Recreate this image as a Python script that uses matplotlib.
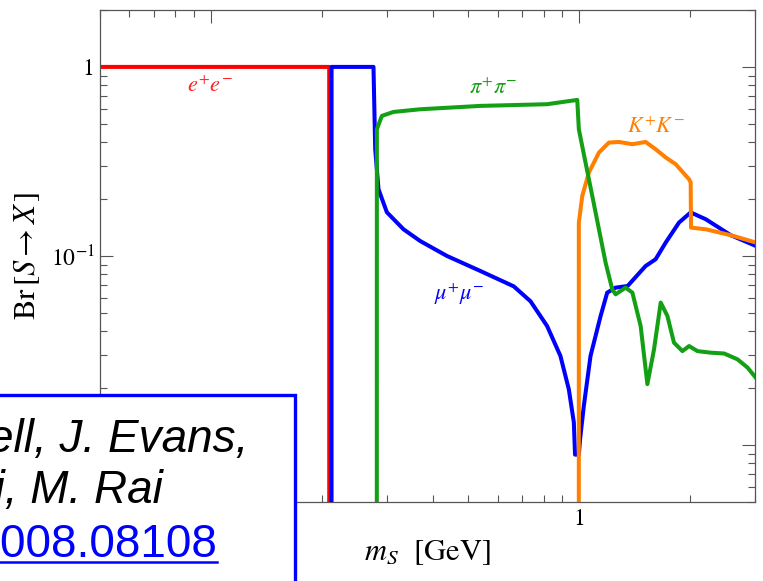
import matplotlib
matplotlib.use('Agg')
import matplotlib.pyplot as plt
from matplotlib.patches import Rectangle
from matplotlib.lines import Line2D
from matplotlib.ticker import FixedLocator, FixedFormatter, LogLocator, NullFormatter

plt.rcParams['font.family'] = 'serif'
plt.rcParams['font.serif'] = ['STIXGeneral', 'Liberation Serif', 'DejaVu Serif']
plt.rcParams['mathtext.fontset'] = 'stix'

# branching ratios of a light scalar
m_ee = [0.05, 0.2095, 0.2096, 3.0]
br_ee = [1.0, 1.0, 1e-5, 1e-5]

m_mumu = [0.2125, 0.2126, 0.2763, 0.2793, 0.2851, 0.3004, 0.3334, 0.370, 0.4375,
          0.539, 0.664, 0.7374, 0.818, 0.889, 0.937, 0.9667, 0.974, 0.9975,
          1.005, 1.029, 1.073, 1.143, 1.191, 1.255, 1.353, 1.514, 1.612, 1.717,
          1.866, 2.007, 2.206, 2.579, 3.016]
br_mumu = [1e-5, 1.0, 1.0, 0.367, 0.2254, 0.1703, 0.1384, 0.120, 0.100,
           0.0833, 0.0691, 0.0576, 0.0426, 0.0296, 0.0197, 0.0132, 0.0089, 0.0089,
           0.0107, 0.0161, 0.0296, 0.0482, 0.064, 0.068, 0.0694, 0.0885, 0.0961, 0.1178,
           0.1503, 0.170, 0.1564, 0.1288, 0.113]

m_pipi = [0.2820, 0.2822, 0.2911, 0.3131, 0.370, 0.539, 0.818, 0.9876, 0.9975,
          1.040, 1.085, 1.131, 1.179, 1.229, 1.255, 1.336, 1.394, 1.468, 1.531,
          1.596, 1.664, 1.735, 1.808, 1.906, 1.987, 2.094, 2.275, 2.474, 2.690,
          2.863, 3.016]
br_pipi = [1e-5, 0.468, 0.5506, 0.578, 0.597, 0.622, 0.635, 0.669, 0.468,
           0.312, 0.2077, 0.1384, 0.0923, 0.0667, 0.0627, 0.068, 0.064, 0.0426, 0.0210,
           0.0321, 0.0567, 0.0482, 0.0348, 0.0314, 0.0334, 0.0314, 0.0308, 0.0305, 0.0284,
           0.0257, 0.0227]

m_KK = [0.997, 0.9975, 1.019, 1.062, 1.131, 1.204, 1.282, 1.394, 1.514, 1.612,
        1.717, 1.828, 1.987, 2.007, 2.011, 2.206, 2.579, 3.016]
br_KK = [1e-5, 0.150, 0.2077, 0.276, 0.3524, 0.398, 0.401, 0.390, 0.401, 0.367,
         0.332, 0.3056, 0.2545, 0.2445, 0.1413, 0.1384, 0.1288, 0.1178]

# tick positions; only the labels not hidden under the box are written out
x_ticks = [0.1, 1]
x_ticklabels = ['', '1']
y_ticks = [0.01, 0.1, 1]
y_ticklabels = ['', r'$10^{-1}$', '1']

fig = plt.figure(figsize=(7.63, 5.81), dpi=100)
ax = fig.add_axes([0.1311, 0.1360, 0.8584, 0.8468])

lw = 2.9
ax.plot(m_ee, br_ee, color='#ff0000', lw=lw, zorder=2)
ax.plot(m_mumu, br_mumu, color='#0000ff', lw=lw, zorder=3)
ax.plot(m_KK, br_KK, color='#ff8000', lw=lw, zorder=4)
ax.plot(m_pipi, br_pipi, color='#14a014', lw=lw, zorder=5)

ax.set_xscale('log')
ax.set_yscale('log')
ax.set_xlim(0.05, 3.0)
ax.set_ylim(0.005, 2.0)

ax.xaxis.set_major_locator(FixedLocator(x_ticks))
ax.xaxis.set_major_formatter(FixedFormatter(x_ticklabels))
ax.yaxis.set_major_locator(FixedLocator(y_ticks))
ax.yaxis.set_major_formatter(FixedFormatter(y_ticklabels))
for a in (ax.xaxis, ax.yaxis):
    a.set_minor_locator(LogLocator(base=10, subs=range(2, 10)))
    a.set_minor_formatter(NullFormatter())

ax.tick_params(which='both', direction='in', top=True, right=True,
               color='#555555', width=0.8, labelsize=17)
ax.tick_params(which='major', length=9.5)
ax.tick_params(which='minor', length=5)
ax.tick_params(axis='y', pad=4)
ax.tick_params(axis='x', pad=5)
for s in ax.spines.values():
    s.set_color('#555555')
    s.set_linewidth(0.9)

ax.set_xlabel(r'$m_S$  [GeV]', fontsize=22, labelpad=6)
ax.set_ylabel(r'Br$\,[S \rightarrow X\,]$', fontsize=22, labelpad=6)

ax.text(0.0994, 0.781, r'$e^{+}e^{-}$', color='#ff2020', fontsize=16, ha='center', va='center')
ax.text(0.583, 0.762, r'$\pi^{+}\pi^{-}$', color='#14a014', fontsize=16, ha='center', va='center')
ax.text(1.618, 0.474, r'$K^{+}K^{-}$', color='#ff8000', fontsize=16, ha='center', va='center')
ax.text(0.4726, 0.0625, r'$\mu^{+}\mu^{-}$', color='#0000ff', fontsize=16, ha='center', va='center')

# reference box in the lower left corner
W, H = 763.0, 581.0
box = Rectangle((-15 / W, -20 / H), 310 / W, (H - 394.7 + 20) / H, transform=fig.transFigure,
                facecolor='white', edgecolor='#0000ff', lw=2.4, zorder=10)
fig.add_artist(box)

sans = ['Liberation Sans', 'DejaVu Sans']
fig.text(248 / W, 1 - 451.7 / H, 'B. Batell, J. Evans,', fontsize=33, family=sans,
         style='italic', ha='right', va='baseline', zorder=11)
fig.text(163.3 / W, 1 - 503 / H, 'S. Gori, M. Rai', fontsize=33, family=sans,
         style='italic', ha='right', va='baseline', zorder=11)
fig.text(217.3 / W, 1 - 556.7 / H, 'arXiv:2008.08108', fontsize=33, family=sans,
         color='#0000ff', ha='right', va='baseline', zorder=11)
fig.add_artist(Line2D([0, 217.3 / W], [1 - 562 / H, 1 - 562 / H], transform=fig.transFigure,
                      color='#0000ff', lw=1.8, zorder=11))

fig.savefig('out.png', dpi=100)
